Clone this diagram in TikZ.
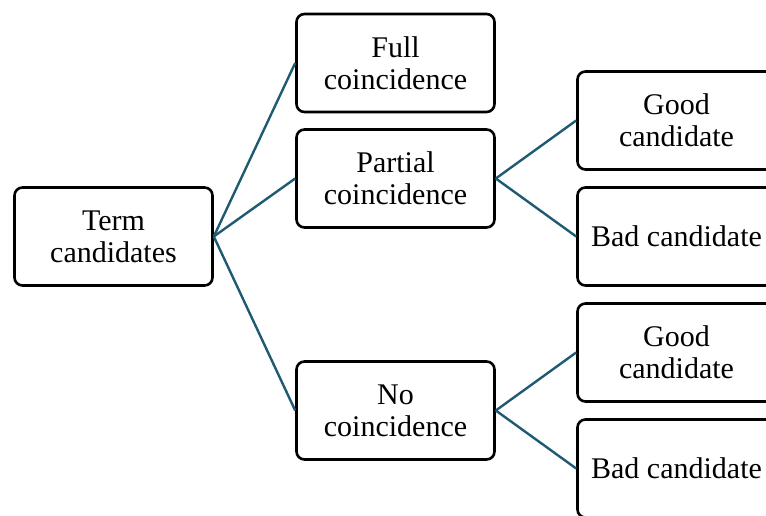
\documentclass[tikz,border=0pt]{standalone}
\usepackage{fontspec}
\setmainfont{Liberation Serif}
\definecolor{linkblue}{HTML}{1F5A73}
\begin{document}
\begin{tikzpicture}[x=1pt,y=-1pt,
  box/.style={draw, line width=2.6pt, rounded corners=8pt, minimum width=198pt,
    minimum height=98pt, align=center, font=\fontsize{30}{32}\selectfont},
  link/.style={draw=linkblue, line width=2.4pt}]
\useasboundingbox (0,0) rectangle (766,516);

\node[box] (term) at (113.5,236.5) {Term\\candidates};
\node[box] (full) at (395.5,63) {Full\\coincidence};
\node[box] (part) at (395.5,178.5) {Partial\\coincidence};
\node[box] (none) at (395.5,410.5) {No\\coincidence};
\node[box] (goodA) at (676.5,120.5) {Good\\candidate};
\node[box] (badA) at (676.5,236.5) {Bad candidate};
\node[box] (goodB) at (676.5,352.5) {Good\\candidate};
\node[box] (badB) at (676.5,468.5) {Bad candidate};

\draw[link] (term.east) -- (full.west);
\draw[link] (term.east) -- (part.west);
\draw[link] (term.east) -- (none.west);
\draw[link] (part.east) -- (goodA.west);
\draw[link] (part.east) -- (badA.west);
\draw[link] (none.east) -- (goodB.west);
\draw[link] (none.east) -- (badB.west);
\end{tikzpicture}
\end{document}
